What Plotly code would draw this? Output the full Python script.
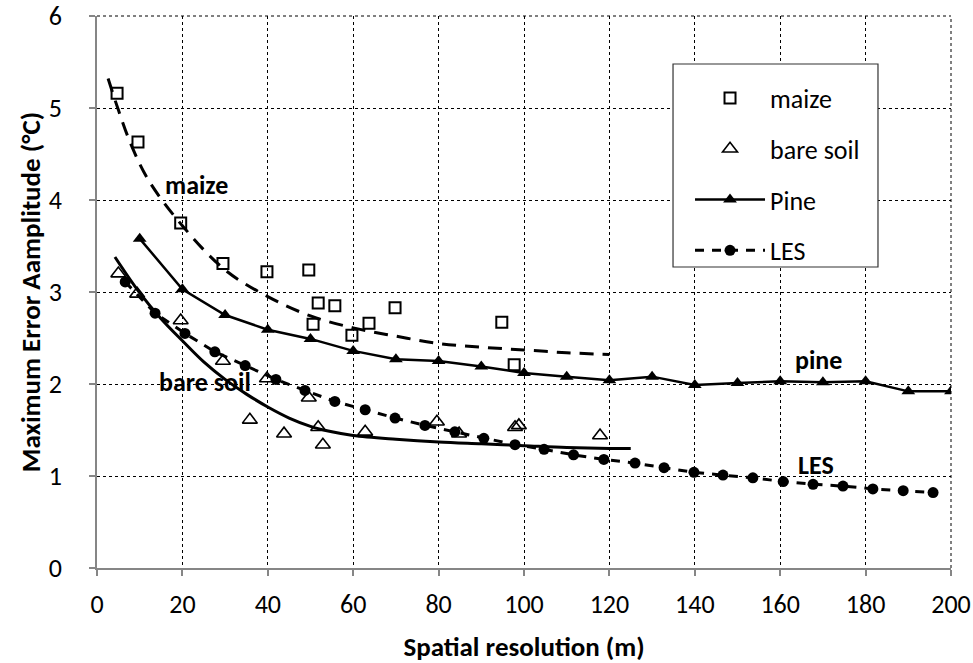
import plotly.graph_objects as go

# ---- data ----
maize_x = [4.7, 9.6, 19.6, 29.5, 39.8, 49.6, 50.6, 51.8, 55.7, 59.7, 63.7, 69.8, 94.8, 97.7]
maize_y = [5.16, 4.63, 3.75, 3.31, 3.22, 3.24, 2.65, 2.88, 2.85, 2.53, 2.66, 2.83, 2.67, 2.21]

maize_fit_x = [2.6, 5, 8, 12, 20, 30, 40, 50, 60, 70, 80, 90, 100, 110, 120]
maize_fit_y = [5.32, 4.98, 4.6, 4.22, 3.72, 3.24, 2.95, 2.74, 2.61, 2.52, 2.44, 2.40, 2.37, 2.34, 2.32]

bare_x = [5.0, 9.4, 19.6, 29.5, 35.8, 39.8, 43.8, 49.6, 51.8, 52.9, 62.8, 79.6, 84.8, 97.9, 98.8, 117.8]
bare_y = [3.20, 2.98, 2.69, 2.25, 1.61, 2.06, 1.46, 1.85, 1.53, 1.34, 1.48, 1.59, 1.46, 1.53, 1.55, 1.44]

bare_fit_x = [4.2, 10, 15, 20, 25, 30, 35, 40, 45, 50, 55, 60, 70, 80, 90, 100, 110, 120, 125]
bare_fit_y = [3.38, 2.99, 2.71, 2.47, 2.24, 2.05, 1.89, 1.75, 1.63, 1.54, 1.48, 1.44, 1.40, 1.37, 1.35, 1.33, 1.31, 1.30, 1.30]

pine_x = [10, 20, 30, 40, 50, 60, 70, 80, 90, 100, 110, 120, 130, 140, 150, 160, 170, 180, 190, 200]
pine_y = [3.58, 3.03, 2.75, 2.59, 2.49, 2.36, 2.27, 2.25, 2.19, 2.12, 2.08, 2.04, 2.08, 1.99, 2.01,
          2.03, 2.02, 2.03, 1.92, 1.92]

les_x = [6.6, 13.6, 20.6, 27.6, 34.7, 41.9, 48.7, 55.7, 62.8, 69.8, 76.8, 83.8, 90.6, 97.9,
         104.7, 111.6, 118.7, 126.0, 132.8, 139.8, 146.6, 153.6, 160.7, 167.7, 174.7, 181.7, 188.8, 195.8]
les_y = [3.11, 2.77, 2.55, 2.35, 2.20, 2.05, 1.93, 1.81, 1.72, 1.63, 1.55, 1.48, 1.41, 1.34,
         1.29, 1.23, 1.18, 1.14, 1.09, 1.04, 1.01, 0.98, 0.94, 0.91, 0.89, 0.86, 0.84, 0.82]

x_ticks = [0, 20, 40, 60, 80, 100, 120, 140, 160, 180, 200]
y_ticks = [0, 1, 2, 3, 4, 5, 6]

labels = [("maize", 23.4, 4.16), ("bare soil", 25.3, 2.02), ("pine", 168.9, 2.26), ("LES", 168.4, 1.12)]

FONT = "Carlito, Calibri, Lato, sans-serif"

fig = go.Figure()

# fit curves (not in legend)
fig.add_trace(go.Scatter(x=maize_fit_x, y=maize_fit_y, mode="lines", line_shape="spline",
                         line=dict(color="black", width=3, dash="14px,9px"),
                         showlegend=False, hoverinfo="skip"))
fig.add_trace(go.Scatter(x=bare_fit_x, y=bare_fit_y, mode="lines", line_shape="spline",
                         line=dict(color="black", width=3),
                         showlegend=False, hoverinfo="skip"))

fig.add_trace(go.Scatter(x=maize_x, y=maize_y, mode="markers", name="maize",
                         legendgroup="a",
                         marker=dict(symbol="square-open", size=11, color="black",
                                     line=dict(width=2, color="black"))))
fig.add_trace(go.Scatter(x=bare_x, y=bare_y, mode="markers", name="bare soil",
                         legendgroup="b",
                         marker=dict(symbol="triangle-up-open", size=13, color="black",
                                     line=dict(width=1.6, color="black"))))
fig.add_trace(go.Scatter(x=pine_x, y=pine_y, mode="lines+markers", name="Pine",
                         legendgroup="c",
                         line=dict(color="black", width=2.5),
                         marker=dict(symbol="triangle-up", size=12, color="black")))
fig.add_trace(go.Scatter(x=les_x, y=les_y, mode="lines+markers", name="LES",
                         legendgroup="d",
                         line=dict(color="black", width=3, dash="9px,8px"),
                         marker=dict(symbol="circle", size=11, color="black")))

for text, lx, ly in labels:
    fig.add_annotation(x=lx, y=ly, text="<b>%s</b>" % text, showarrow=False,
                       font=dict(family=FONT, size=26, color="black"))

axis_common = dict(showgrid=True, gridcolor="black", griddash="dot", gridwidth=1,
                   showline=True, linecolor="#868686", linewidth=1.5,
                   ticks="outside", tickcolor="#868686", ticklen=6, tickwidth=1.5,
                   tickfont=dict(family=FONT, size=26, color="black"),
                   zeroline=False, automargin=False)

fig.update_xaxes(range=[0, 200], tickvals=x_ticks, ticklabelstandoff=6,
                 title=dict(text="<b>Spatial resolution (m)</b>",
                            font=dict(family=FONT, size=27, color="black"), standoff=22),
                 **axis_common)
fig.update_yaxes(range=[0, 6], tickvals=y_ticks, ticklabelstandoff=22,
                 title=dict(text="<b>Maximum Error Aamplitude (°C)</b>",
                            font=dict(family=FONT, size=27, color="black"), standoff=0),
                 **axis_common)

# dotted grid lines on the top and right edges of the plot area
fig.add_shape(type="line", xref="paper", yref="paper", x0=0, x1=1, y0=1, y1=1,
              line=dict(color="black", width=1, dash="dot"), layer="below")
fig.add_shape(type="line", xref="paper", yref="paper", x0=1, x1=1, y0=0, y1=1,
              line=dict(color="black", width=1, dash="dot"), layer="below")

# legend frame
fig.add_shape(type="rect", xref="paper", yref="paper",
              x0=0.6745, x1=0.9145, y0=0.5453, y1=0.913,
              line=dict(color="#333333", width=1.2), fillcolor="white", layer="above")

fig.update_layout(
    width=973, height=663,
    margin=dict(l=97, r=22, t=16, b=95, autoexpand=False),
    plot_bgcolor="white", paper_bgcolor="white",
    legend=dict(x=0.6944, y=0.894, xanchor="left", yanchor="top",
                bgcolor="rgba(0,0,0,0)", borderwidth=0,
                font=dict(family=FONT, size=26, color="black"),
                itemwidth=70, tracegroupgap=14),
)

fig.write_html("out.html")
